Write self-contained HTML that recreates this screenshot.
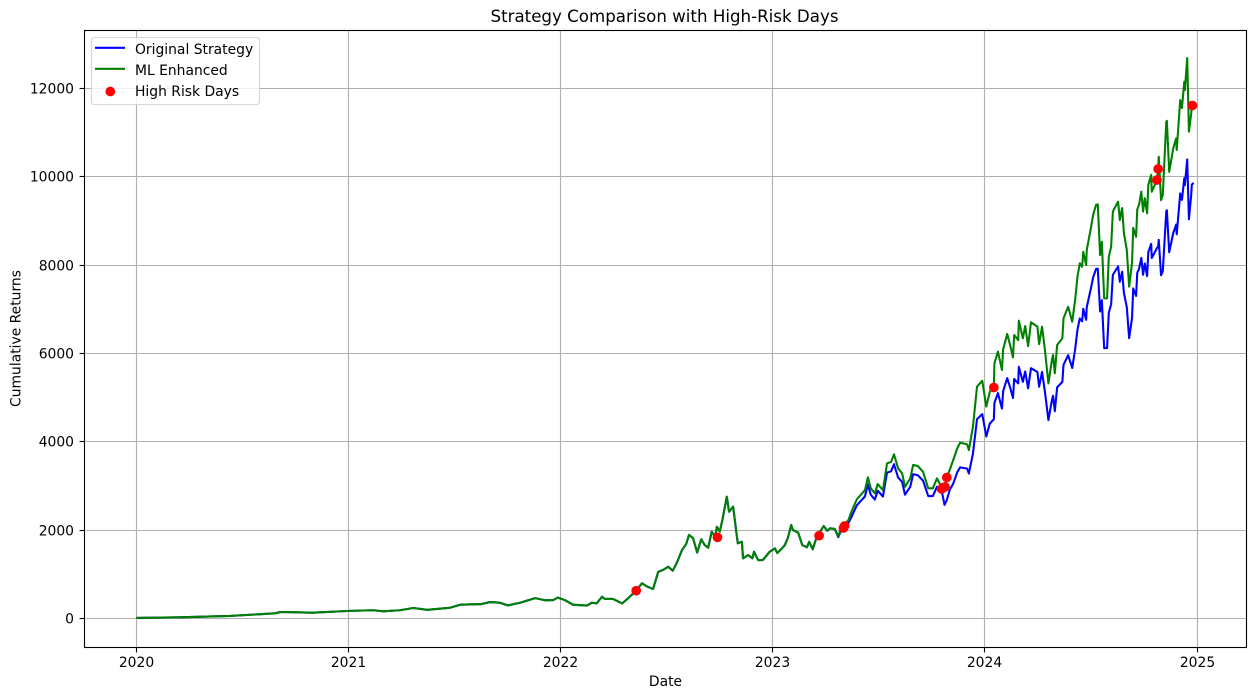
<!DOCTYPE html>
<html lang="en">
<head>
<meta charset="utf-8">
<title>Strategy Comparison with High-Risk Days</title>
<style>
html,body{margin:0;padding:0;background:#fff;width:1256px;height:699px;overflow:hidden}
svg{display:block;font-family:"DejaVu Sans",sans-serif;fill:#000}
text{font-size:13.89px}
</style>
</head>
<body>
<svg id="chart" xmlns="http://www.w3.org/2000/svg" width="1256" height="699" viewBox="0 0 1256 699">
  <rect x="84.5" y="30.5" width="1162" height="617" fill="#fff"/>
  <g id="grid"></g>
  <g id="series"></g>
  <g id="legend">
    <rect x="91.5" y="37.5" width="168" height="67" rx="2.8" fill="#fff" fill-opacity="0.8" stroke="#ccc" stroke-opacity="0.8" stroke-width="1.11"/>
    <line x1="95" x2="125" y1="47.8" y2="47.8" stroke="#0000ff" stroke-width="2.08"/>
    <text x="135" y="54">Original Strategy</text>
    <line x1="95" x2="125" y1="68.8" y2="68.8" stroke="#008000" stroke-width="2.08"/>
    <text x="135" y="75">ML Enhanced</text>
    <circle cx="110.3" cy="91.5" r="4.86" fill="#ff0000"/>
    <text x="135" y="96">High Risk Days</text>
  </g>
  <rect x="84.5" y="30.5" width="1162" height="617" fill="none" stroke="#000" stroke-width="1.11"/>
  <g id="ticks"></g>
  <text x="664.5" y="22" text-anchor="middle" style="font-size:16.67px">Strategy Comparison with High-Risk Days</text>
  <text x="665.5" y="686" text-anchor="middle">Date</text>
  <text transform="translate(20.5 338.5) rotate(-90)" text-anchor="middle">Cumulative Returns</text>
</svg>
<script>
// Days since 2020-01-01 for each sampled observation
const dates = [0,75,161,239,248,270,303,368,408,425,454,477,501,540,558,595,609,626,640,661,687,704,718,726,738,752,776,785,793,802,807,821,837,847,861,871,880,890,899,907,916,924,931,940,947,952,959,966,973,979,985,991,997,1000,1005,1010,1017,1021,1028,1033,1036,1043,1045,1054,1061,1064,1071,1079,1091,1100,1104,1112,1117,1122,1128,1131,1140,1147,1155,1159,1165,1172,1184,1190,1195,1203,1209,1216,1226,1233,1241,1250,1255,1260,1265,1272,1277,1286,1293,1300,1305,1312,1319,1324,1333,1338,1346,1355,1364,1372,1379,1388,1392,1396,1401,1407,1414,1419,1431,1434,1441,1448,1457,1464,1470,1477,1478,1484,1491,1493,1500,1505,1510,1512,1519,1520,1527,1531,1536,1541,1552,1555,1560,1565,1571,1577,1579,1582,1586,1595,1597,1605,1612,1617,1621,1625,1629,1631,1636,1637,1644,1648,1653,1656,1660,1663,1667,1672,1675,1679,1682,1691,1694,1698,1701,1706,1710,1715,1717,1722,1724,1727,1731,1734,1737,1741,1743,1748,1749,1758,1760,1761,1765,1768,1774,1775,1779,1786,1791,1792,1798,1801,1805,1806,1810,1813,1817,1818,1821];
const mlEnhanced = [10,25,55,115,145,140,130,170,185,160,185,235,195,240,310,325,370,355,295,355,460,410,415,470,415,310,290,355,340,490,440,440,340,455,630,795,720,665,1055,1095,1170,1080,1260,1550,1680,1890,1815,1490,1790,1660,1600,1965,1850,2075,1965,2265,2755,2415,2530,2000,1700,1735,1360,1435,1360,1510,1320,1320,1510,1585,1480,1585,1660,1815,2115,2000,1940,1660,1610,1735,1565,1850,2090,1985,2040,2025,1865,2115,2210,2455,2695,2830,2905,3195,2945,2830,3040,2905,3510,3545,3715,3400,3285,2980,3170,3475,3450,3320,2945,2945,3170,2950,2960,3190,3360,3585,3850,3980,3940,3810,4340,5245,5380,4795,5130,5245,5775,6040,5625,6090,6440,6190,5910,6415,6300,6740,6340,6620,6165,6705,6605,6210,6605,6075,5320,5850,5965,5550,6190,6340,6795,7055,6715,7210,7735,8040,7960,8300,8000,8340,8830,9135,9360,9375,8225,8530,7245,7245,8190,8415,9210,9435,9020,9290,8725,8340,7510,8045,8840,8640,9260,9360,9660,9210,9510,9170,9810,10040,9660,9925,10195,10450,9470,9585,11245,11265,10110,10640,10870,10605,11735,11555,12150,11960,12685,11020,11440,11620,11700];
const originalStrategy = [10,25,55,115,145,140,130,170,185,160,185,235,195,240,310,325,370,355,295,355,460,410,415,470,415,310,290,355,340,490,440,440,340,455,630,795,720,665,1055,1095,1170,1080,1260,1550,1680,1890,1815,1490,1790,1660,1600,1965,1850,2075,1965,2265,2755,2415,2530,2000,1700,1735,1360,1435,1360,1510,1320,1320,1510,1585,1480,1585,1660,1815,2115,2000,1940,1660,1610,1735,1565,1850,2090,1985,2040,2025,1840,2050,2145,2330,2560,2690,2760,3035,2800,2690,2890,2760,3300,3330,3490,3195,3090,2800,2980,3265,3240,3120,2770,2770,2980,2840,2570,2680,2910,3050,3310,3420,3390,3280,3730,4510,4625,4120,4410,4510,4880,5100,4750,5145,5440,5230,4990,5420,5320,5695,5355,5590,5210,5665,5580,5245,5580,5130,4490,4940,5040,4690,5230,5355,5740,5960,5670,6090,6535,6790,6725,7010,6760,7045,7460,7720,7910,7920,6950,7205,6120,6120,6920,7110,7780,7970,7620,7850,7370,7045,6345,6800,7470,7300,7825,7910,8160,7780,8035,7750,8290,8480,8160,8385,8420,8570,7770,7860,9220,9240,8290,8725,8915,8695,9620,9475,9965,9810,10390,9035,9600,9820,9860];
const highRiskDays = [861,1001,1176,1218,1220,1387,1390,1393,1396,1477,1758,1760,1819];
const highRiskValues = [627,1836,1872,2047,2092,2930,2964,2975,3190,5228,9925,10175,11612];
const xTickDays = [0,366,731,1096,1461,1827];
const xTickLabels = ['2020','2021','2022','2023','2024','2025'];
const yTickValues = [0,2000,4000,6000,8000,10000,12000];

const NS = 'http://www.w3.org/2000/svg';
function xScale(day){ return 136.3 + day * 0.5806; }
function yScale(value){ return 618.4 - value * 0.04417; }
function snap(p){ return Math.floor(p) + 0.5; }
function make(tag, attrs, parent){
  const el = document.createElementNS(NS, tag);
  for (const k in attrs) el.setAttribute(k, attrs[k]);
  parent.appendChild(el);
  return el;
}
const gridG = document.getElementById('grid');
const ticksG = document.getElementById('ticks');
const seriesG = document.getElementById('series');

xTickDays.forEach(function(day, i){
  const x = snap(xScale(day));
  const g = make('line', {x1:x, x2:x, y1:30.5, y2:647.5, stroke:'#b0b0b0', 'stroke-width':1.11}, gridG);
  
  
  const t = make('line', {x1:x, x2:x, y1:647.5, y2:652.4, stroke:'#000', 'stroke-width':1.11}, ticksG);
  
  
  const l = make('text', {x:x, y:667, 'text-anchor':'middle'}, ticksG);
  
  
  l.textContent = xTickLabels[i];
});
yTickValues.forEach(function(value){
  const y = snap(yScale(value));
  const g = make('line', {x1:84.5, x2:1246.5, y1:y, y2:y, stroke:'#b0b0b0', 'stroke-width':1.11}, gridG);
  
  
  const t = make('line', {x1:79.6, x2:84.5, y1:y, y2:y, stroke:'#000', 'stroke-width':1.11}, ticksG);
  
  
  const l = make('text', {x:74, y:y + 5, 'text-anchor':'end'}, ticksG);
  
  
  l.textContent = String(value);
});
function linePath(values){
  return values.map(function(v, i){
    return (i ? 'L' : 'M') + xScale(dates[i]).toFixed(2) + ' ' + yScale(v).toFixed(2);
  }).join(' ');
}
const originalLine = make('path', {d:linePath(originalStrategy), fill:'none', stroke:'#0000ff', 'stroke-width':2.08, 'stroke-linejoin':'round'}, seriesG);


const mlLine = make('path', {d:linePath(mlEnhanced), fill:'none', stroke:'#008000', 'stroke-width':2.08, 'stroke-linejoin':'round'}, seriesG);


highRiskDays.forEach(function(day, i){
  const c = make('circle', {cx:xScale(day), cy:yScale(highRiskValues[i]), r:4.86, fill:'#ff0000'}, seriesG);
  
  
});
</script>
</body>
</html>
